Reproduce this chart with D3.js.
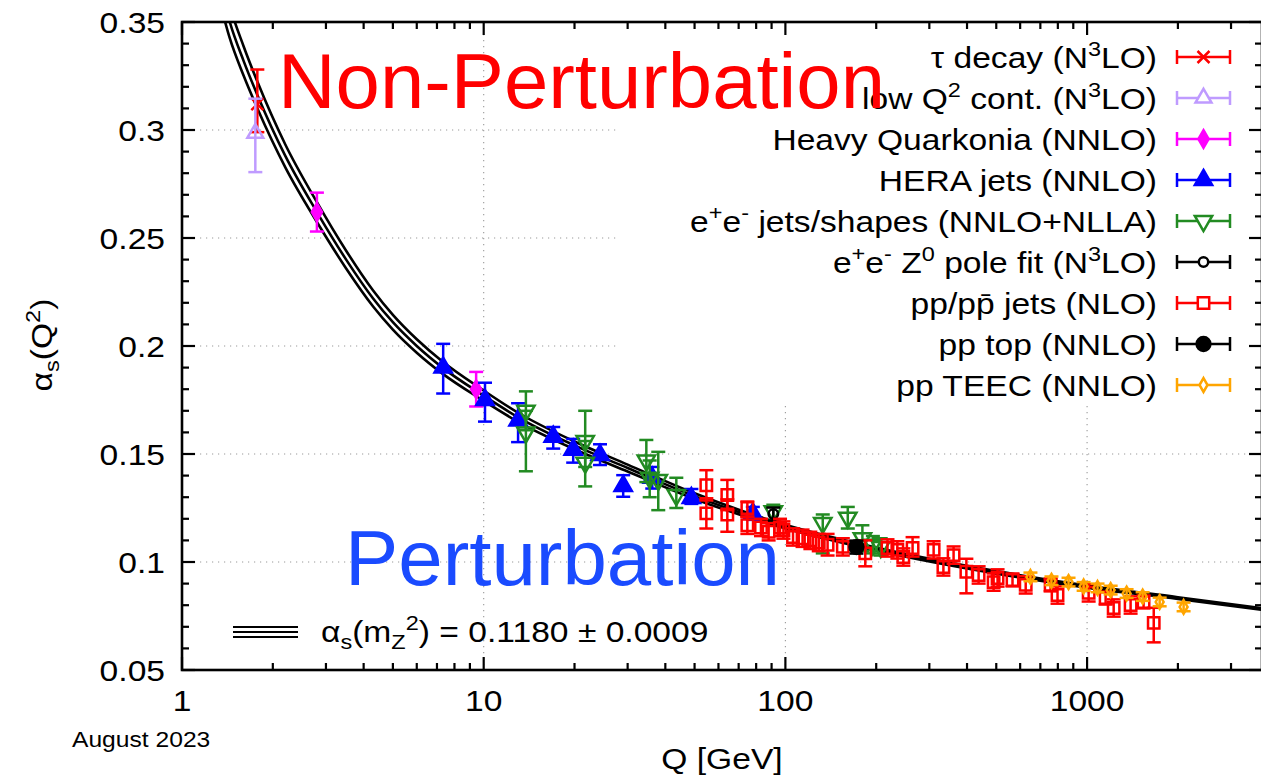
<!DOCTYPE html>
<html><head><meta charset="utf-8">
<script src="https://cdn.jsdelivr.net/npm/d3@7"></script>
<style>
body{margin:0;background:#fff;}
svg{display:block;}
text{font-family:"Liberation Sans",Arial,Helvetica,sans-serif;}
</style>
</head><body>
<svg id="c" width="1261" height="778"></svg>
<script>
// ---------------- data ----------------
const yTickValues=[0.05,0.1,0.15,0.2,0.25,0.3,0.35];
const yTickLabels=["0.05","0.1","0.15","0.2","0.25","0.3","0.35"];
const xTickValues=[1,10,100,1000];
const xTickLabels=["1","10","100","1000"];

// running coupling band
const curveQ    =[1.35,1.44,1.6,1.78,2.2,2.8,3.5,4.3,5,6,7.3,10,13,20,30,50,91.2,200,500,1000,2000,4000];
const curveAlpha=[0.365,0.350,0.332,0.316,0.288,0.262,0.240,0.222,0.211,0.200,0.190,0.177,0.167,0.154,0.1435,0.1305,0.118,0.106,0.0952,0.0886,0.0833,0.0778];
const curveErr  =[0.0085,0.0075,0.0068,0.0062,0.0053,0.0046,0.0041,0.0037,0.0034,0.0031,0.0028,0.0024,0.0021,0.0018,0.0016,0.0013,0.0009,0.0007,0.0006,0.0005,0.0004,0.0004];

// each point: [Q, alpha, errDown, errUp]
const tauDecay=[[1.777,0.312,0.013,0.016]];
const lowQ2=[[1.75,0.2985,0.018,0.016]];
const heavyQuarkonia=[[2.80,0.262,0.009,0.009],[9.44,0.180,0.008,0.008]];
const heraJets=[[7.34,0.190,0.012,0.011],[10.1,0.175,0.010,0.008],[13.0,0.1655,0.010,0.008],[17.0,0.158,0.0055,0.0045],
  [19.8,0.152,0.006,0.005],[24.3,0.1495,0.0046,0.005],[29.0,0.1352,0.005,0.005],[36.2,0.139,0.005,0.005],
  [48.8,0.1296,0.0027,0.0042],[78,0.1225,0.003,0.003]];
const eeJets=[[13.8,0.170,0.009,0.009],[13.8,0.160,0.018,0.010],[21.7,0.156,0.012,0.014],[21.7,0.146,0.011,0.010],
  [34.6,0.147,0.010,0.0095],[35.5,0.139,0.009,0.008],[37.9,0.138,0.014,0.013],[43.5,0.131,0.006,0.008],
  [91.2,0.1235,0.004,0.003],[133,0.118,0.014,0.004],[161,0.1205,0.005,0.005],[180,0.111,0.006,0.006],
  [195,0.108,0.004,0.004],[207,0.107,0.004,0.004]];
const eeZpole=[[91.2,0.1222,0.003,0.003]];
const ppJets=[[54.7,0.1355,0.007,0.007],[54.7,0.1225,0.007,0.007],[64.2,0.131,0.007,0.007],[64.2,0.122,0.008,0.007],
  [74.8,0.125,0.004,0.003],[74.8,0.117,0.004,0.004],[83,0.116,0.004,0.004],[88,0.114,0.004,0.004],[96,0.116,0.004,0.004],
  [98.5,0.1148,0.004,0.004],[106,0.1116,0.004,0.004],[114,0.111,0.004,0.004],[121,0.110,0.004,0.004],[129,0.109,0.004,0.004],
  [138,0.108,0.005,0.005],[155,0.107,0.004,0.004],[184,0.104,0.006,0.006],[218,0.1065,0.004,0.004],[235,0.1056,0.004,0.004],
  [246,0.1023,0.004,0.004],[264,0.1065,0.004,0.005],[310,0.1056,0.004,0.004],[334,0.0977,0.004,0.004],[361,0.1032,0.004,0.004],
  [398,0.0955,0.010,0.006],[437,0.094,0.004,0.004],[490,0.0907,0.004,0.004],[505,0.0926,0.004,0.004],[566,0.0917,0.003,0.003],
  [626,0.0894,0.004,0.004],[757,0.0894,0.003,0.003],[798,0.0847,0.004,0.004],[1012,0.0857,0.004,0.004],[1152,0.0833,0.003,0.003],
  [1225,0.0787,0.004,0.004],[1394,0.0801,0.004,0.004],[1539,0.0815,0.003,0.003],[1663,0.0718,0.009,0.007]];
const ppTop=[[172,0.1069,0.003,0.003]];
const ppTEEC=[[649,0.0931,0.002,0.002],[762,0.0913,0.002,0.002],[868,0.0907,0.002,0.002],[974,0.0887,0.002,0.002],
  [1083,0.0880,0.002,0.002],[1197,0.0870,0.002,0.002],[1352,0.0854,0.002,0.002],[1528,0.0840,0.002,0.002],
  [1740,0.0815,0.002,0.002],[2089,0.0792,0.002,0.002]];

const legendLabels=["τ decay (N^{3}LO)","low Q^{2} cont. (N^{3}LO)","Heavy Quarkonia (NNLO)","HERA jets (NNLO)",
  "e^{+}e^{-} jets/shapes (NNLO+NLLA)","e^{+}e^{-} Z^{0} pole fit (N^{3}LO)","pp/pp\u0304 jets (NLO)","pp top (NNLO)","pp TEEC (NNLO)"];
const bandLabel="α_{s}(m_{Z}^{2}) = 0.1180 ± 0.0009";
const yAxisLabel="α_{s}(Q^{2})";
const xAxisLabel="Q [GeV]";
const dateLabel="August 2023";
const note1="Non-Perturbation";
const note2="Perturbation";

// ---------------- drawing ----------------
const SX=1.12;
const svg=d3.select("#c");
const L=182,R=1262,T=22,B=670;
const x=d3.scaleLog().domain([1,3800]).range([L,R]);
const y=d3.scaleLinear().domain([0.05,0.35]).range([B,T]);

svg.append("defs").append("clipPath").attr("id","clip")
  .append("rect").attr("x",L).attr("y",T).attr("width",R-L).attr("height",B-T);

function parseSegs(str){
  const parts=str.split(/(\^\{[^}]*\}|_\{[^}]*\})/).filter(s=>s.length);
  return parts.map(p=>{
    if(p.startsWith("^{")) return {t:p.slice(2,-1),sup:true};
    if(p.startsWith("_{")) return {t:p.slice(2,-1),sub:true};
    return {t:p};
  });
}
function stext(parent,tx,ty,str,opt){
  const size=opt.size||30;
  const g=parent.append("g").attr("transform",`translate(${tx},${ty})${opt.rot?` rotate(${opt.rot})`:""} scale(${opt.sx||SX},1)`);
  const t=g.append("text").attr("font-size",size).attr("text-anchor",opt.anchor||"start").attr("fill",opt.fill||"#000");
  if(opt.family) t.attr("font-family",opt.family);
  let shift=0;
  parseSegs(str).forEach(s=>{
    const ts=t.append("tspan").text(s.t);
    const target=s.sup?-size*0.40:(s.sub?size*0.22:0);
    if(target-shift!==0) ts.attr("dy",target-shift);
    shift=target;
    if(s.sup||s.sub) ts.attr("font-size",size*0.7);
  });
  return t;
}

// grid
const grid=svg.append("g").attr("stroke","#9a9a9a").attr("stroke-width",1.1).attr("stroke-dasharray","1.2,4.8");
yTickValues.filter(v=>v>0.05&&v<0.35).forEach(v=>{
  grid.append("line").attr("x1",L).attr("x2",R).attr("y1",y(v)).attr("y2",y(v));
});
xTickValues.filter(v=>v>1).forEach(v=>{
  grid.append("line").attr("x1",x(v)).attr("x2",x(v)).attr("y1",T).attr("y2",B);
});

// legend box (opaque)
svg.append("rect").attr("x",618).attr("y",T+2).attr("width",1249-618).attr("height",406-T-2).attr("fill","#fff");

// curve band
const plot=svg.append("g").attr("clip-path","url(#clip)");
const curveData=curveQ.map((q,i)=>({q,a:curveAlpha[i],e:curveErr[i]}));
const lineGen=f=>d3.line().x(d=>x(d.q)).y(d=>y(f(d))).curve(d3.curveMonotoneX);
[d=>d.a+d.e,d=>d.a,d=>d.a-d.e].forEach(f=>{
  plot.append("path").attr("d",lineGen(f)(curveData)).attr("fill","none").attr("stroke","#000").attr("stroke-width",2.6);
});

// symbols
const sym={
  times:s=>`M${-s},${-s}L${s},${s}M${-s},${s}L${s},${-s}`,
  triUp:a=>d3.symbol(d3.symbolTriangle,a)(),
  diamond:a=>d3.symbol(d3.symbolDiamond,a)(),
  square:a=>d3.symbol(d3.symbolSquare,a)(),
  circle:a=>d3.symbol(d3.symbolCircle,a)()
};
const series=[
  {data:tauDecay,color:"#ff0000",path:sym.times(6),fill:"none",rot:0},
  {data:lowQ2,color:"#bf9bff",path:sym.triUp(110),fill:"none",rot:0},
  {data:heavyQuarkonia,color:"#ff00ff",path:sym.diamond(90),fill:"#ff00ff",rot:0},
  {data:heraJets,color:"#0000ff",path:sym.triUp(130),fill:"#0000ff",rot:0},
  {data:eeJets,color:"#228b22",path:sym.triUp(130),fill:"none",rot:180},
  {data:eeZpole,color:"#000000",path:sym.circle(70),fill:"none",rot:0},
  {data:ppJets,color:"#ff0000",path:sym.square(130),fill:"none",rot:0},
  {data:ppTop,color:"#000000",path:sym.circle(150),fill:"#000000",rot:0},
  {data:ppTEEC,color:"#ffa500",path:sym.diamond(55),fill:"none",rot:0}
];
const CAP=7;
series.forEach(s=>{
  const g=plot.append("g").attr("stroke",s.color).attr("stroke-width",2.5);
  s.data.forEach(d=>{
    const px=x(d[0]),y0=y(d[1]-d[2]),y1=y(d[1]+d[3]);
    g.append("line").attr("x1",px).attr("x2",px).attr("y1",y0).attr("y2",y1);
    g.append("line").attr("x1",px-CAP).attr("x2",px+CAP).attr("y1",y0).attr("y2",y0);
    g.append("line").attr("x1",px-CAP).attr("x2",px+CAP).attr("y1",y1).attr("y2",y1);
    g.append("path").attr("d",s.path).attr("fill",s.fill)
      .attr("transform",`translate(${px},${y(d[1])}) rotate(${s.rot})`);
  });
});

// legend
const legY0=57,legDy=41.0;
series.forEach((s,i)=>{
  const cy=legY0+i*legDy;
  const g=svg.append("g").attr("stroke",s.color).attr("stroke-width",2.5);
  g.append("line").attr("x1",1177).attr("x2",1230).attr("y1",cy).attr("y2",cy);
  g.append("line").attr("x1",1177).attr("x2",1177).attr("y1",cy-CAP).attr("y2",cy+CAP);
  g.append("line").attr("x1",1230).attr("x2",1230).attr("y1",cy-CAP).attr("y2",cy+CAP);
  g.append("path").attr("d",s.path).attr("fill",s.fill==="none"?"#fff":s.fill)
    .attr("transform",`translate(1203.5,${cy}) rotate(${s.rot})`);
  stext(svg,1157,cy+10.5,legendLabels[i],{anchor:"end",size:30});
});

// band key
[-5,0,5].forEach(o=>{
  svg.append("line").attr("x1",233).attr("x2",298).attr("y1",632+o).attr("y2",632+o).attr("stroke","#000").attr("stroke-width",2.2);
});
stext(svg,321,642,bandLabel,{size:30});

// frame
svg.append("rect").attr("x",L).attr("y",T).attr("width",R-L).attr("height",B-T)
  .attr("fill","none").attr("stroke","#000").attr("stroke-width",2.6);

// ticks
const tk=svg.append("g").attr("stroke","#000").attr("stroke-width",2.2);
d3.range(5,36).forEach(i=>{
  const v=i/100, len=(i%5===0)?13:7, py=y(v);
  tk.append("line").attr("x1",L).attr("x2",L+len).attr("y1",py).attr("y2",py);
  tk.append("line").attr("x1",R).attr("x2",R-len).attr("y1",py).attr("y2",py);
});
xTickValues.forEach(dec=>{
  d3.range(1,10).forEach(m=>{
    const q=dec*m; if(q>3800) return;
    const len=(m===1)?13:7, px=x(q);
    tk.append("line").attr("x1",px).attr("x2",px).attr("y1",B).attr("y2",B-len);
    tk.append("line").attr("x1",px).attr("x2",px).attr("y1",T).attr("y2",T+len);
  });
});

// tick labels
yTickValues.forEach((v,i)=>stext(svg,165,y(v)+10.5,yTickLabels[i],{anchor:"end",size:30}));
xTickValues.forEach((v,i)=>stext(svg,x(v),711,xTickLabels[i],{anchor:"middle",size:30}));

// axis titles
stext(svg,722,769,xAxisLabel,{anchor:"middle",size:30});
stext(svg,52,345,yAxisLabel,{anchor:"middle",size:30,rot:-90});
stext(svg,72,747,dateLabel,{size:22});

// annotations
svg.append("text").attr("x",278).attr("y",108).attr("font-size",78)
  .attr("font-family","'Comic Sans MS','Comic Neue',Lato,sans-serif").attr("fill","#ff0000")
  .attr("textLength",607).attr("lengthAdjust","spacingAndGlyphs").text(note1);
svg.append("text").attr("x",345).attr("y",585).attr("font-size",78)
  .attr("font-family","'Comic Sans MS','Comic Neue',Lato,sans-serif").attr("fill","#1a4bff")
  .attr("textLength",435).attr("lengthAdjust","spacingAndGlyphs").text(note2);
</script>
</body></html>
